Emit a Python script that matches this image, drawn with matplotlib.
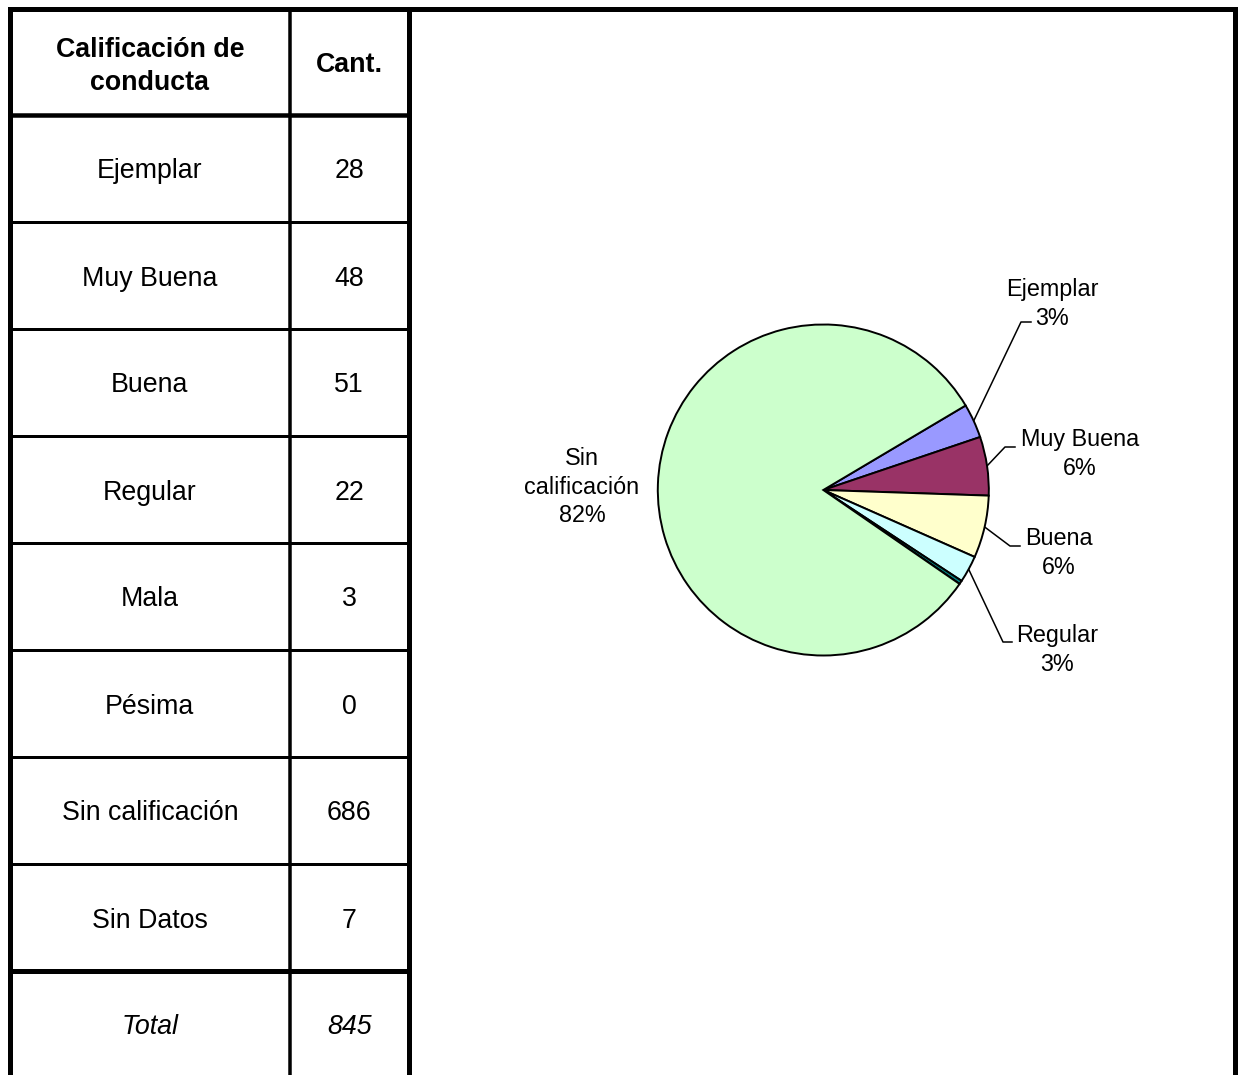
import matplotlib
matplotlib.use('Agg')
import matplotlib.pyplot as plt
import numpy as np

# ---------------- data ----------------
categories = ['Ejemplar', 'Muy Buena', 'Buena', 'Regular', 'Mala', 'Pésima',
              'Sin calificación', 'Sin Datos']
counts = [28, 48, 51, 22, 3, 0, 686, 7]
total_label = 'Total'
total_value = 845
header_labels = ['Calificación de\nconducta', 'Cant.']

pie_categories = ['Ejemplar', 'Muy Buena', 'Buena', 'Regular', 'Mala', 'Pésima',
                  'Sin calificación']
pie_values = [28, 48, 51, 22, 3, 0, 686]
pie_colors = ['#9999FF', '#993366', '#FFFFCC', '#CCFFFF', '#008080', '#FF8080', '#CCFFCC']
labeled = ['Ejemplar', 'Muy Buena', 'Buena', 'Regular', 'Sin calificación']

# ---------------- layout ----------------
W, H = 1240, 1075
plt.rcParams['font.family'] = ['Liberation Sans', 'DejaVu Sans']
fig = plt.figure(figsize=(W / 100, H / 100), dpi=100)
ax = fig.add_axes([0, 0, 1, 1])
ax.set_xlim(0, W)
ax.set_ylim(H, 0)
ax.axis('off')

PT = 72 / 100  # points per pixel


def seg(x0, y0, x1, y1, w):
    ax.plot([x0, x1], [y0, y1], color='black', lw=w * PT,
            solid_capstyle='projecting')


xl, xd, xs, xr = 9.7, 290.0, 408.5, 1235.0
ytop = 8.5
yh = 115.0
row_h = 107.0
tshift = 3.0  # visual centring offset of text

# outer frame and separators
seg(xl, ytop, xr, ytop, 5)
seg(xl, ytop, xl, H + 5, 5)
seg(xr, ytop, xr, H + 5, 5)
seg(xs, ytop, xs, H + 5, 5)
seg(xd, ytop, xd, H + 5, 3.5)
seg(xl, yh, xs, yh, 4.5)
n = len(categories)
for k in range(1, n + 1):
    y = yh + k * row_h
    seg(xl, y, xs, y, 5 if k == n else 3)

fs = 19.3
cx1 = (xl + xd) / 2
cx2 = (xd + xs) / 2
yhc = (ytop + yh) / 2
ax.text(cx1, yhc + 2 + tshift, header_labels[0], ha='center', va='center', fontsize=fs,
        fontweight='bold', linespacing=1.36, multialignment='center')
ax.text(cx2, yhc + tshift, header_labels[1], ha='center', va='center', fontsize=fs,
        fontweight='bold')
for i, (c, v) in enumerate(zip(categories, counts)):
    yc = yh + (i + 0.5) * row_h + tshift
    ax.text(cx1, yc, c, ha='center', va='center', fontsize=fs)
    ax.text(cx2, yc, str(v), ha='center', va='center', fontsize=fs)
yc = yh + (n + 0.5) * row_h + tshift
ax.text(cx1, yc, total_label, ha='center', va='center', fontsize=fs, style='italic')
ax.text(cx2, yc, str(total_value), ha='center', va='center', fontsize=fs, style='italic')

# ---------------- pie ----------------
pcx, pcy, pr = 823.3, 490.0, 165.5
pad = 1.02
pax = fig.add_axes([(pcx - pr * pad) / W, 1 - (pcy + pr * pad) / H,
                    2 * pr * pad / W, 2 * pr * pad / H])
start = 30.7
wedges, _ = pax.pie(pie_values, colors=pie_colors, startangle=start, counterclock=False,
                    radius=1.0, wedgeprops=dict(edgecolor='black', linewidth=1.4))
pax.set_xlim(-pad, pad)
pax.set_ylim(-pad, pad)
pax.set_aspect('equal')
pax.axis('off')

tot = sum(pie_values)
lfs = 16.8
# label placement: (elbow x, elbow y, end x, text center x, text center y)
label_pos = {
    'Ejemplar': (1021, 322, 1031, 1052, 304),
    'Muy Buena': (1005, 447, 1015, 1080, 454),
    'Buena': (1010, 546, 1020, 1059, 553),
    'Regular': (1003, 642, 1012, 1057, 650),
    'Sin calificación': (None, None, None, 582, 487),
}
for w, c, v in zip(wedges, pie_categories, pie_values):
    if c not in labeled:
        continue
    pct = int(round(v / tot * 100))
    mid = np.deg2rad((w.theta1 + w.theta2) / 2)
    ex = pcx + pr * np.cos(mid)
    ey = pcy - pr * np.sin(mid)
    bx, by, endx, tx, ty = label_pos[c]
    if bx is not None:
        ax.plot([ex, bx, endx], [ey, by, by], color='black', lw=1.1)
    txt = c.replace(' ', '\n') if c == 'Sin calificación' else c
    ax.text(tx, ty, f'{txt}\n{pct}%', ha='center', va='center', fontsize=lfs,
            linespacing=1.28, multialignment='center')

fig.savefig('out.png', dpi=100)
